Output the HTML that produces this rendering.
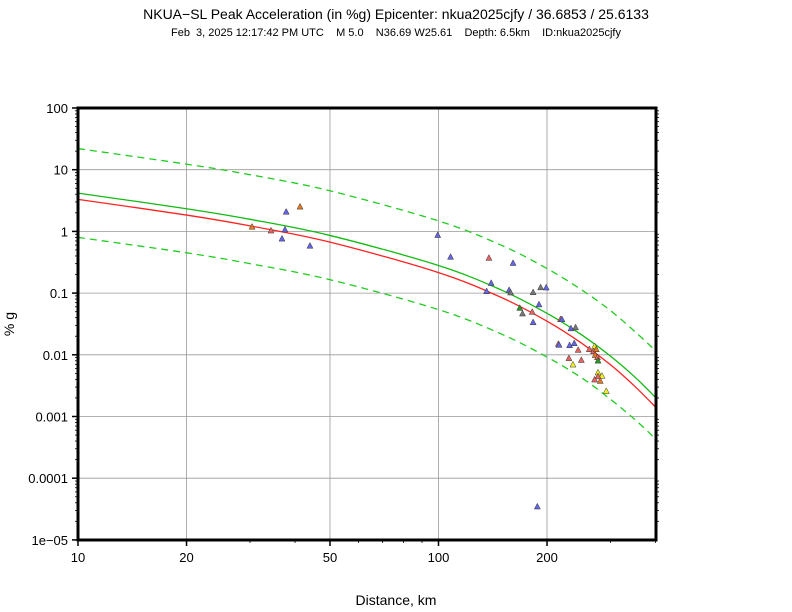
<!DOCTYPE html>
<html><head><meta charset="utf-8"><style>
body{margin:0;background:#fff;}
svg{display:block;font-family:"Liberation Sans",sans-serif;}
</style></head><body>
<svg id="c" width="792" height="612" viewBox="0 0 792 612">
<text x="396" y="19" text-anchor="middle" font-size="14">NKUA−SL Peak Acceleration (in %g) Epicenter: nkua2025cjfy / 36.6853 / 25.6133</text>
<text x="396" y="36" text-anchor="middle" font-size="11" style="white-space:pre">Feb  3, 2025 12:17:42 PM UTC    M 5.0    N36.69 W25.61    Depth: 6.5km    ID:nkua2025cjfy</text>
<text x="396" y="605" text-anchor="middle" font-size="14">Distance, km</text>
<text transform="translate(14,324) rotate(-90)" text-anchor="middle" font-size="14">% g</text>
<g id="grid"></g><g id="curves"></g><g id="pts"></g><g id="axes"></g>
</svg>
<script>
const curveDist=[10,20,30,50,100,150,200,250,300,350,401];
const medianGreen=[4.17,2.33,1.57,0.86,0.28,0.111,0.047,0.0209,0.0095,0.0044,0.002];
const medianRed=[3.3,1.84,1.23,0.67,0.215,0.084,0.035,0.0153,0.0069,0.0031,0.0014];
const upperDash=[22,12.3,8.3,4.55,1.48,0.59,0.25,0.112,0.052,0.024,0.0115];
const lowerDash=[0.8,0.45,0.30,0.165,0.054,0.0215,0.0092,0.0042,0.0019,0.0009,0.00043];
const stDist=[30.4,34.3,37.8,41.3,37.5,36.8,44,99.5,108,138,161,140,136,157,158.5,183,192,199,190,168,171,182,183,218,220,233,240,215,216,231,238,244,262,271,269,274,272,276,277,230,249,236,277,284,277,271,281,292,188];
const stPga=[1.2,1.04,2.1,2.54,1.08,0.77,0.59,0.88,0.39,0.375,0.31,0.147,0.108,0.113,0.103,0.104,0.125,0.124,0.066,0.058,0.047,0.05,0.034,0.038,0.038,0.027,0.028,0.0151,0.0146,0.0144,0.0155,0.0121,0.0124,0.0138,0.0115,0.0124,0.01,0.0092,0.0081,0.0089,0.0083,0.007,0.0052,0.0046,0.0045,0.004,0.0038,0.0026,0.000035];
const stType=["o","s","b","o","b","b","b","b","b","s","b","b","b","b","g","g","g","b","b","G","g","s","b","s","b","b","g","s","b","b","b","s","s","y","s","o","o","s","G","s","s","y","y","y","s","s","o","y","b"];
const xTicks=[10,20,50,100,200];
const yTicks=[100,10,1,0.1,0.01,0.001,0.0001,0.00001];
const yLabels=["100","10","1","0.1","0.01","0.001","0.0001","1e−05"];
const L=78,R=656,T=108,B=540,XD=360.5,YD=61.7;
const X=d=>L+Math.log10(d/10)*XD;
const Y=v=>T+(2-Math.log10(v))*YD;
const NS="http://www.w3.org/2000/svg";
function mk(t,a,p){const e=document.createElementNS(NS,t);for(const k in a)e.setAttribute(k,a[k]);p.appendChild(e);return e;}
const grid=document.getElementById('grid'),axes=document.getElementById('axes');
xTicks.forEach(d=>{const l=mk('line',{x1:X(d),x2:X(d),y1:T,y2:B,stroke:'#999','stroke-width':0.8},grid);

const t=mk('text',{x:X(d),y:562,'text-anchor':'middle','font-size':13},axes);t.textContent=d;
});
yTicks.forEach((v,i)=>{const l=mk('line',{x1:L,x2:R,y1:Y(v),y2:Y(v),stroke:'#999','stroke-width':0.8},grid);

const t=mk('text',{x:68,y:Y(v)+5,'text-anchor':'end','font-size':13},axes);t.textContent=yLabels[i];

mk('line',{x1:L-6,x2:L,y1:Y(v),y2:Y(v),stroke:'#000','stroke-width':1.5},axes);
if(i<yTicks.length-1)for(let m=2;m<10;m++){const yy=Y(v/10*m);
mk('line',{x1:L-3,x2:L,y1:yy,y2:yy,stroke:'#000','stroke-width':0.8},axes);
mk('line',{x1:R,x2:R+3,y1:yy,y2:yy,stroke:'#000','stroke-width':0.8},axes);}});
[30,40,60,70,80,90,300,400].forEach(d=>mk('line',{x1:X(d),x2:X(d),y1:B,y2:B+3,stroke:'#000','stroke-width':0.8},axes));
xTicks.forEach(d=>mk('line',{x1:X(d),x2:X(d),y1:B,y2:B+6,stroke:'#000','stroke-width':1.5},axes));
const fr=mk('rect',{x:L,y:T,width:R-L,height:B-T,fill:'none',stroke:'#000','stroke-width':3},axes);

const cv=document.getElementById('curves');
function curve(vals,color,dash,name){
 const p=curveDist.map((d,i)=>[X(d),Y(vals[i])]);
 let s='M'+p[0][0]+','+p[0][1];
 for(let i=0;i<p.length-1;i++){const p0=p[Math.max(0,i-1)],p1=p[i],p2=p[i+1],p3=p[Math.min(p.length-1,i+2)];
 s+=` C${p1[0]+(p2[0]-p0[0])/6},${p1[1]+(p2[1]-p0[1])/6} ${p2[0]-(p3[0]-p1[0])/6},${p2[1]-(p3[1]-p1[1])/6} ${p2[0]},${p2[1]}`;}
 const e=mk('path',{d:s,fill:'none',stroke:color,'stroke-width':1.3,'stroke-dasharray':dash||'none'},cv);
 
 }
curve(upperDash,'#22cc22','7,5','upper-bound-line');
curve(lowerDash,'#22cc22','7,5','lower-bound-line');
curve(medianGreen,'#11bb11','','median-gmpe-line');
curve(medianRed,'#ff2222','','bias-corrected-line');
const col={b:'#6464e6',s:'#e86464',o:'#e8781e',y:'#f0f020',g:'#787878',G:'#229922'};
const pts=document.getElementById('pts');
stDist.forEach((d,i)=>{const x=X(d),y=Y(stPga[i]);
 const e=mk('polygon',{points:`${x-3},${y+2.7} ${x+3},${y+2.7} ${x},${y-3}`,fill:col[stType[i]],stroke:'#333','stroke-width':0.5},pts);
 
 });
</script>
</body></html>
